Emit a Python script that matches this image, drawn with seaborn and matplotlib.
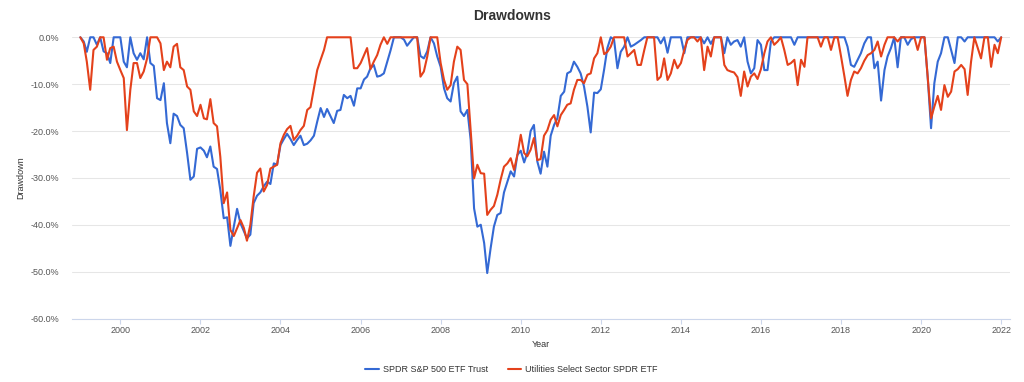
import numpy as np
import pandas as pd
import matplotlib
matplotlib.use("Agg")
import matplotlib.pyplot as plt
import matplotlib.dates as mdates
import seaborn as sns

# ---------------- data (monthly drawdowns, %, starting Jan 1999) ----------------
start_date = "1999-01-01"
series_names = ["SPDR S&P 500 ETF Trust", "Utilities Select Sector SPDR ETF"]

spy_drawdown = [
    0, -0.9, -3.1, 0, 0, -1.6, 0, -3.0, -3.4, -5.5, 0, 0,
    0, -5.2, -6.4, 0, -3.4, -4.8, -3.4, -4.7, 0, -5.5, -6.1, -13.0,
    -13.4, -9.8, -18.3, -22.6, -16.3, -16.8, -18.7, -19.4, -24.7, -30.4, -29.7, -23.8,
    -23.5, -24.2, -25.6, -23.3, -27.6, -28.1, -32.6, -38.6, -38.4, -44.5, -40.4, -36.6,
    -39.7, -41.4, -42.9, -42.1, -35.4, -33.8, -33.1, -31.8, -30.8, -31.3, -26.9, -27.2,
    -23.0, -21.7, -20.6, -21.7, -23.0, -21.9, -21.0, -23.0, -22.7, -22.0, -21.0, -18.0,
    -15.1, -17.0, -15.3, -16.8, -18.3, -15.7, -15.5, -12.3, -13.0, -12.5, -14.6, -10.9,
    -10.9, -9.0, -8.4, -6.6, -5.9, -8.4, -8.2, -7.7, -5.2, -2.8, 0, 0,
    0, -0.5, -1.8, -0.9, 0, 0, -4.0, -4.5, -3.0, 0, -1.3, -4.1,
    -6.3, -10.9, -13.0, -13.7, -9.8, -8.4, -15.8, -16.8, -15.5, -21.9, -36.5, -40.4,
    -40.0, -43.9, -50.3, -45.0, -40.4, -37.9, -37.5, -33.1, -30.8, -28.6, -29.7, -25.1,
    -24.2, -26.7, -24.7, -20.0, -18.7, -26.5, -29.1, -24.4, -27.6, -21.0, -18.7, -17.3,
    -12.5, -11.6, -7.7, -7.3, -5.2, -6.3, -7.7, -10.5, -14.8, -20.3, -11.8, -11.9,
    -11.1, -6.8, -2.3, 0, -0.5, -6.6, -3.1, -2.0, 0, -2.0, -1.6, -1.1,
    -0.6, 0, 0, 0, 0, 0, -1.3, 0, -3.3, 0, 0, 0,
    0, -3.4, 0, 0, 0, 0, 0, -1.3, 0, -1.4, 0, 0,
    0, -3.4, 0, -1.6, -0.9, -0.6, -2.0, 0, -5.2, -7.7, -6.6, -0.6,
    -1.6, -7.0, -7.0, -0.9, 0, 0, 0, 0, 0, 0, -1.6, 0,
    0, 0, 0, 0, 0, 0, 0, 0, 0, 0, 0, 0,
    0, 0, -2.0, -5.9, -6.3, -4.8, -3.4, -1.3, 0, 0, -6.6, -5.2,
    -13.5, -7.0, -4.1, -2.3, 0, -6.4, 0, 0, -1.6, -0.4, 0, 0,
    0, 0, -8.4, -19.4, -9.8, -5.2, -3.4, 0, 0, -2.7, -5.5, 0,
    0, -0.9, 0, 0, 0, 0, 0, 0, 0, 0, 0, -0.9,
    0,
]

xlu_drawdown = [
    0, -1.3, -5.2, -11.2, -2.7, -2.0, 0, 0, -4.8, -2.3, -2.0, -5.2,
    -7.0, -8.7, -19.8, -11.2, -5.5, -5.5, -8.7, -7.3, -4.5, 0, 0, 0,
    -1.3, -7.0, -5.2, -6.4, -2.0, -1.4, -6.4, -7.0, -10.5, -11.2, -15.8, -16.8,
    -14.4, -17.3, -17.5, -13.2, -18.3, -19.0, -25.5, -35.4, -33.1, -41.1, -42.4, -40.7,
    -39.0, -40.7, -43.4, -40.0, -34.0, -28.9, -28.0, -32.9, -31.5, -28.0, -27.6, -27.2,
    -22.6, -20.8, -19.6, -18.9, -21.9, -21.0, -19.8, -18.9, -15.5, -14.9, -10.9, -7.0,
    -4.8, -2.7, 0, 0, 0, 0, 0, 0, 0, 0, -6.6, -6.6,
    -5.5, -3.8, -2.3, -6.8, -5.2, -3.8, -1.6, 0, -1.4, 0, 0, 0,
    0, 0, 0, 0, 0, 0, -8.4, -7.3, -4.1, 0, 0, 0,
    -5.5, -9.1, -11.2, -10.2, -5.2, -2.0, -2.7, -9.1, -10.0, -19.8, -30.1, -27.2,
    -29.0, -29.1, -37.9, -36.8, -36.0, -33.6, -30.4, -27.6, -26.9, -25.8, -28.3, -25.1,
    -20.8, -24.7, -25.4, -24.0, -21.5, -26.2, -26.0, -21.0, -19.8, -17.6, -16.6, -19.0,
    -16.6, -15.5, -14.4, -14.1, -11.2, -9.1, -9.1, -9.8, -8.0, -7.7, -4.5, -3.4,
    0, -3.6, -3.1, -2.0, 0, 0, 0, 0, -4.1, -3.4, -2.7, -5.9,
    -5.9, -2.7, 0, 0, 0, -9.1, -8.4, -4.5, -9.1, -7.7, -4.8, -6.6,
    -5.5, -2.7, -0.6, 0, 0, -0.9, 0, -7.0, -2.0, -4.1, 0, 0,
    0, -5.9, -7.0, -7.3, -7.5, -8.5, -12.5, -7.3, -10.5, -8.4, -7.7, -8.9,
    -6.8, -3.4, -0.9, 0, -1.6, -0.9, 0, -2.7, -5.9, -5.5, -4.8, -10.2,
    -4.8, -6.3, 0, 0, 0, 0, -2.0, 0, 0, -2.7, 0, 0,
    -4.1, -8.4, -12.5, -9.1, -7.3, -7.7, -6.6, -5.0, -3.8, -3.4, -2.7, -0.9,
    -4.1, -1.6, 0, 0, 0, -0.9, 0, 0, 0, 0, 0, -2.7,
    0, 0, -8.4, -17.3, -14.8, -12.5, -15.5, -10.2, -12.7, -11.6, -7.3, -6.8,
    -5.9, -6.8, -12.3, -5.2, 0, -2.3, -4.5, 0, 0, -6.3, -1.6, -3.4,
    0,
]

y_ticks = [0, -10, -20, -30, -40, -50, -60]
colors = ["#3469d4", "#e4411b"]

# ---------------- build long table ----------------
dates = pd.date_range(start_date, periods=len(spy_drawdown), freq="MS")
df = pd.concat([
    pd.DataFrame({"Year": dates, "Drawdown": spy_drawdown, "series": series_names[0]}),
    pd.DataFrame({"Year": dates, "Drawdown": xlu_drawdown, "series": series_names[1]}),
], ignore_index=True)

# ---------------- style ----------------
sns.set_theme(style="white")
plt.rcParams["font.family"] = ["Liberation Sans", "DejaVu Sans"]
text_color = "#333333"
tick_color = "#555555"

fig = plt.figure(figsize=(10.24, 3.82), dpi=100)
ax = fig.add_axes([0.0700, 0.1662, 0.9163, 0.7362])

sns.lineplot(data=df, x="Year", y="Drawdown", hue="series",
             hue_order=series_names, palette=colors, linewidth=1.5,
             ax=ax, legend=True)
for ln in ax.lines:
    ln.set_clip_on(False)
    ln.set_solid_joinstyle("round")

# axes limits / ticks
ax.set_ylim(-60, 0)
ax.set_yticks(y_ticks)
ax.set_yticklabels([f"{v:.1f}%" for v in y_ticks])
ax.set_xlim(pd.Timestamp("1998-10-14"), pd.Timestamp("2022-03-22"))
ax.xaxis.set_major_locator(mdates.YearLocator(base=2))
ax.xaxis.set_major_formatter(mdates.DateFormatter("%Y"))

ax.grid(axis="y", color="#e6e6e6", linewidth=0.75)
ax.grid(axis="x", visible=False)
ax.set_axisbelow(True)
for side in ["top", "right", "left"]:
    ax.spines[side].set_visible(False)
ax.spines["bottom"].set_color("#ccd6eb")
ax.spines["bottom"].set_linewidth(0.8)

ax.tick_params(axis="x", length=3.6, width=0.8, color="#ccd6eb", pad=2,
               labelsize=6.5, labelcolor=tick_color, direction="out", bottom=True)
ax.tick_params(axis="y", length=0, pad=9, labelsize=6.5, labelcolor=tick_color)

ax.set_xlabel("")
ax.set_ylabel("")
fig.text(0.5285, 0.0986, "Year", ha="center", va="center", fontsize=6.5, color=text_color)
fig.text(0.0202, 0.534, "Drawdown", ha="center", va="center", rotation=90,
         fontsize=6.5, color=text_color)
fig.text(0.5, 0.958, "Drawdowns", ha="center", va="center", fontsize=10,
         fontweight="bold", color=text_color)

handles, labels = ax.get_legend_handles_labels()
ax.get_legend().remove()
leg = fig.legend(handles, labels, loc="center", bbox_to_anchor=(0.4994, 0.0332),
                 ncol=2, frameon=False, fontsize=6.5, handlelength=1.5,
                 handletextpad=0.4, columnspacing=2.2, labelcolor=text_color)
for h in leg.legend_handles:
    h.set_linewidth(1.5)

fig.savefig("out.png", dpi=100)
